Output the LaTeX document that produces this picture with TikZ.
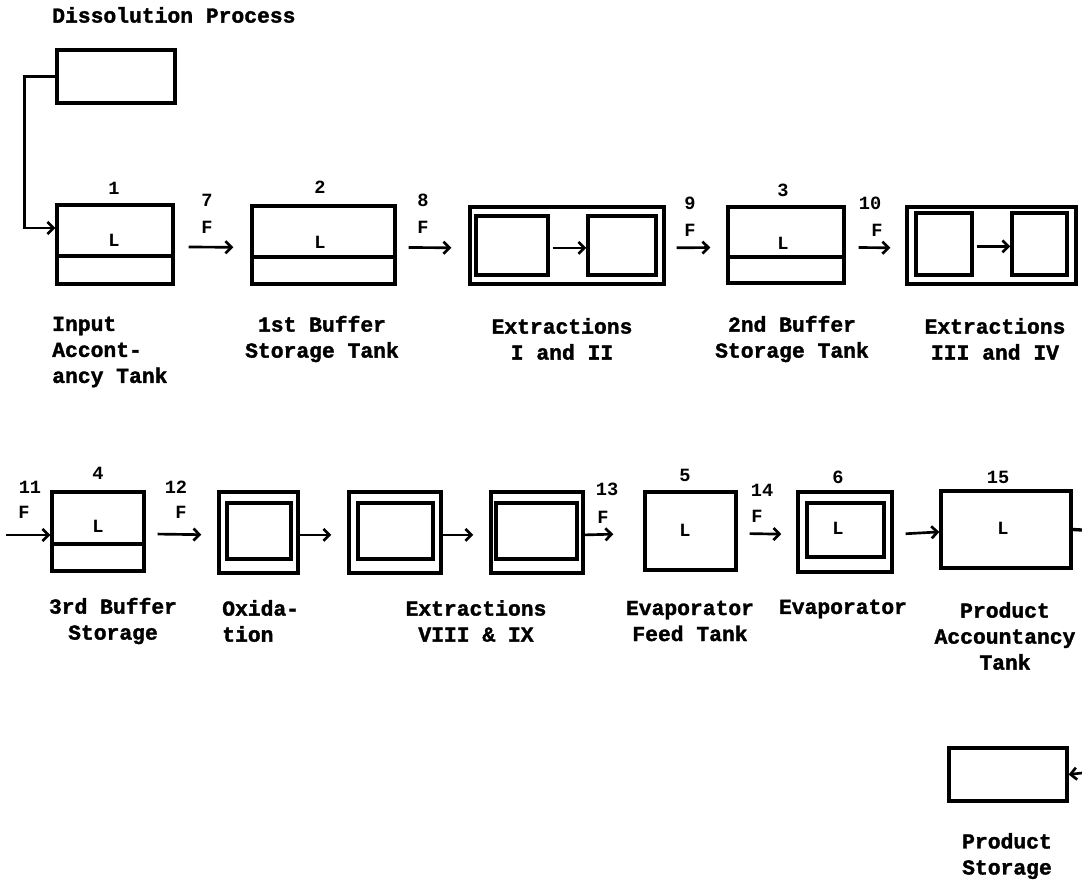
\documentclass[tikz,border=0pt]{standalone}
\usepackage{fontspec}
\newfontfamily\mono{Liberation Mono}
\newfontfamily\heavy[FakeBold=1.6]{Liberation Mono Bold}
\usetikzlibrary{fit,arrows.meta}
\begin{document}
\begin{tikzpicture}[x=0.75pt,y=-0.75pt,
  wall/.style={line width=2.5pt},
  box/.style={draw,wall,inner sep=0pt},
  arr/.style={line width=2pt,-{Straight Barb[length=4.5pt,width=9pt,line width=2pt]}},
  rowarr/.style={arr,transform canvas={yshift=-1.8pt}},
  lab/.style={font=\heavy\fontsize{16}{19.5}\selectfont,inner sep=0pt,align=center},
  num/.style={font=\mono\bfseries\fontsize{14}{16}\selectfont,inner sep=0pt}]
\useasboundingbox (0,0) rectangle (1082,881);

% ---------- title and dissolution
\node[lab,anchor=west] (title) at (52,15) {Dissolution Process};
\node[box,fit={(57,50)(175,103)}] (diss) {};

% ---------- row 1 boxes
\node[box,fit={(57,205)(173,284)}] (b1) {};
\draw[wall] (57,256) -- (173,256);
\node[box,fit={(252,206)(395,284)}] (b2) {};
\draw[wall] (252,257) -- (395,257);
\node[box,fit={(470,207)(664,284)}] (e12) {};
\node[box,fit={(476,216)(548,275)}] (e1) {};
\node[box,fit={(588,216)(656,275)}] (e2) {};
\node[box,fit={(728,207)(844,283)}] (b3) {};
\draw[wall] (728,257) -- (844,257);
\node[box,fit={(907,207)(1076,284)}] (e34) {};
\node[box,fit={(916,213)(972,275)}] (e3) {};
\node[box,fit={(1012,213)(1067,275)}] (e4) {};

% ---------- row 1 texts
\node[num] (n1) at (114,188) {1};
\node[num] (l1) at (114,240) {L};
\node[num] (n2) at (320,187) {2};
\node[num] (l2) at (320,242) {L};
\node[num] (n3) at (783,190) {3};
\node[num] (l3) at (783,243) {L};
\node[num] (n7) at (207,200) {7};
\node[num] (f7) at (207,227) {F};
\node[num] (n8) at (423,200) {8};
\node[num] (f8) at (423,227) {F};
\node[num] (n9) at (690,203) {9};
\node[num] (f9) at (690,230) {F};
\node[num] (n10) at (870,203) {10};
\node[num] (f10) at (877,230) {F};

\node[lab,anchor=west,align=left] (t1) at (52,352) {Input\\Accont-\\ancy Tank};
\node[lab] (t2) at (322,339) {1st Buffer\\Storage Tank};
\node[lab] (t12) at (562,339) {Extractions\\I and II};
\node[lab] (t3) at (792,339) {2nd Buffer\\Storage Tank};
\node[lab] (t34) at (995,339) {Extractions\\III and IV};

% ---------- row 1 connectors
\draw[arr] (diss.west) -- ++(-31,0) |- ([yshift=12.4pt]b1.west);
\draw[rowarr,shorten <=10.5pt,shorten >=12.75pt] (b1.east) -- (b2.west);
\draw[rowarr,shorten <=9pt,shorten >=12.75pt] (b2.east) -- (e12.west);
\draw[rowarr,shorten <=2.25pt] (e1.east) -- (e2.west);
\draw[rowarr,shorten <=8.25pt,shorten >=12pt] (e12.east) -- (b3.west);
\draw[rowarr,shorten <=9.75pt,shorten >=11.25pt] (b3.east) -- (e34.west);
\draw[rowarr,shorten <=2.25pt] (e3.east) -- (e4.west);

% ---------- row 2 boxes
\node[box,fit={(52,492)(144,571)}] (b4) {};
\draw[wall] (52,544) -- (144,544);
\node[box,fit={(219,492)(298,573)}] (ox) {};
\node[box,fit={(227,503)(291,559)}] (oxi) {};
\node[box,fit={(349,492)(441,573)}] (x8) {};
\node[box,fit={(358,503)(433,559)}] (x8i) {};
\node[box,fit={(491,492)(583,573)}] (x9) {};
\node[box,fit={(496,503)(577,559)}] (x9i) {};
\node[box,fit={(645,492)(736,570)}] (b5) {};
\node[box,fit={(798,492)(892,572)}] (b6) {};
\node[box,fit={(807,503)(884,557)}] (b6i) {};
\node[box,fit={(941,491)(1071,568)}] (b15) {};
\node[box,fit={(949,748)(1067,801)}] (ps) {};

% ---------- row 2 texts
\node[num] (n11) at (30,487) {11};
\node[num] (f11) at (24,512) {F};
\node[num] (n4) at (98,473) {4};
\node[num] (l4) at (98,526) {L};
\node[num] (n12) at (176,487) {12};
\node[num] (f12) at (181,512) {F};
\node[num] (n13) at (607,489) {13};
\node[num] (f13) at (603,517) {F};
\node[num] (n5) at (685,475) {5};
\node[num] (l5) at (685,530) {L};
\node[num] (n14) at (762,490) {14};
\node[num] (f14) at (757,516) {F};
\node[num] (n6) at (838,477) {6};
\node[num] (l6) at (838,528) {L};
\node[num] (n15) at (998,477) {15};
\node[num] (l15) at (1003,528) {L};

\node[lab] (t4) at (113,621) {3rd Buffer\\Storage};
\node[lab,anchor=west,align=left] (tox) at (222,621) {Oxida-\\tion};
\node[lab] (t89) at (476,621) {Extractions\\VIII \& IX};
\node[lab] (t5) at (690,621) {Evaporator\\Feed Tank};
\node[lab] (t6) at (843,609) {Evaporator};
\node[lab] (t15) at (1005,636) {Product\\Accountancy\\Tank};
\node[lab] (tps) at (1007,856) {Product\\Storage};

% ---------- row 2 connectors
\coordinate (c11) at (6,535);
\coordinate (edge1) at (1082,530);
\coordinate (edge2) at (1082,773);
\draw[arr] (c11) -- (c11 -| b4.west);
\draw[rowarr,shorten <=9pt,shorten >=12pt] (b4.east) -- (ox.west);
\draw[rowarr,shorten >=12pt] (ox.east) -- (x8.west);
\draw[rowarr,shorten >=12pt] (x8.east) -- (x9.west);
\draw[rowarr,shorten >=22.5pt] (x9.east) -- (b5.west);
\draw[rowarr,shorten <=9pt,shorten >=11.25pt] (b5.east) -- (b6.west);
\draw[rowarr,shorten <=9pt] (b6.east) -- (b15.west);
\draw[wall] (b15.east) -- (edge1);
\draw[arr] (edge2) -- (ps.east);
\end{tikzpicture}
\end{document}
